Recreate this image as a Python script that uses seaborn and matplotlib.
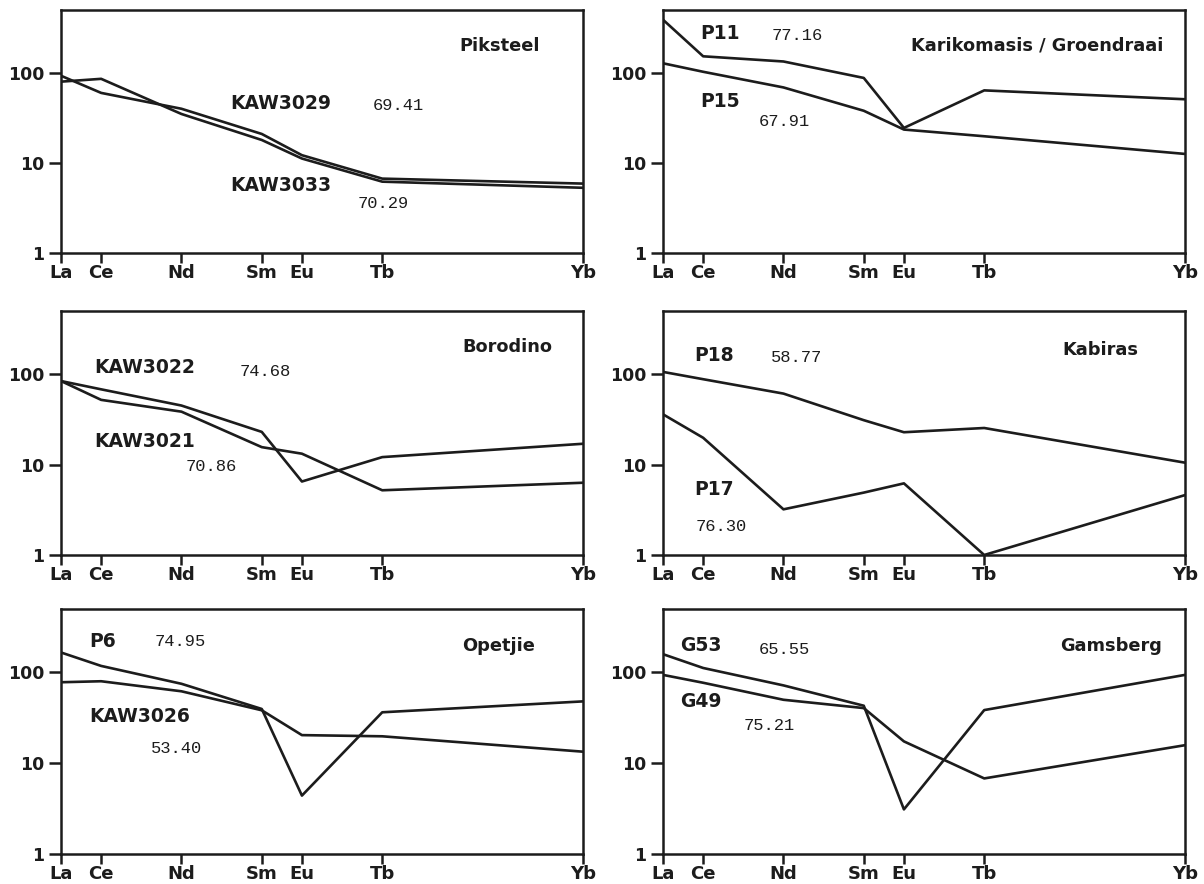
import numpy as np
import pandas as pd
import matplotlib
matplotlib.use("Agg")
import matplotlib.pyplot as plt
import seaborn as sns

# ---------------- data ----------------
elements = ["La", "Ce", "Nd", "Sm", "Eu", "Tb", "Yb"]
atomic_numbers = [57, 58, 60, 62, 63, 65, 70]

# Piksteel
kaw3029 = [93, 60, 40, 21, 12.2, 6.7, 5.9]
kaw3033 = [80, 86, 35, 18, 11.2, 6.2, 5.3]
# Karikomasis / Groendraai
p11 = [390, 153, 134, 88, 24.5, 64, 51]
p15 = [128, 103, 69, 38, 23.5, 19.8, 12.6]
# Borodino
kaw3022 = [84, 68, 45, 23, 6.5, 12.1, 17]
kaw3021 = [84, 52, 38.5, 15.6, 13.2, 5.2, 6.3]
# Kabiras
p18 = [106, 88, 61, 31, 22.8, 25.4, 10.5]
p17 = [36, 19.8, 3.2, 4.9, 6.2, 1.0, 4.6]
# Opetjie
p6 = [166, 118, 75, 39.6, 4.4, 36.4, 48]
kaw3026 = [78, 80, 62, 38.3, 20.4, 19.8, 13.4]
# Gamsberg
g53 = [159, 112, 72, 43, 3.1, 38.5, 94]
g49 = [94, 77, 50, 40.5, 17.4, 6.8, 15.8]

places = ["Piksteel", "Karikomasis / Groendraai", "Borodino", "Kabiras", "Opetjie", "Gamsberg"]
sample_names = [["KAW3029", "KAW3033"], ["P11", "P15"], ["KAW3022", "KAW3021"],
                ["P18", "P17"], ["P6", "KAW3026"], ["G53", "G49"]]
sample_values = [[kaw3029, kaw3033], [p11, p15], [kaw3022, kaw3021],
                 [p18, p17], [p6, kaw3026], [g53, g49]]
sample_numbers = [["69.41", "70.29"], ["77.16", "67.91"], ["74.68", "70.86"],
                  ["58.77", "76.30"], ["74.95", "53.40"], ["65.55", "75.21"]]

y_ticks = [1, 10, 100]
y_tick_labels = ["1", "10", "100"]

# ---------------- layout ----------------
place_pos = [(0.764, 0.85), (0.475, 0.855), (0.768, 0.851),
             (0.765, 0.841), (0.768, 0.849), (0.761, 0.848)]
name_pos = [[(0.324, 0.616), (0.324, 0.277)],
            [(0.071, 0.905), (0.071, 0.624)],
            [(0.063, 0.769), (0.063, 0.467)],
            [(0.059, 0.816), (0.059, 0.269)],
            [(0.054, 0.869), (0.054, 0.563)],
            [(0.032, 0.852), (0.032, 0.621)]]
num_pos = [[(0.598, 0.607), (0.569, 0.202)],
           [(0.208, 0.897), (0.183, 0.541)],
           [(0.343, 0.752), (0.239, 0.364)],
           [(0.206, 0.808), (0.063, 0.118)],
           [(0.180, 0.869), (0.172, 0.429)],
           [(0.183, 0.835), (0.155, 0.523)]]

W, H = 1204, 884
col_left = [61, 663]
col_width = 522
rows = [(10, 253), (311, 555), (609, 854)]

sns.set_theme(style="ticks")
plt.rcParams["font.family"] = ["DejaVu Sans"]
plt.rcParams["axes.linewidth"] = 1.8

ink = "#1c1c1c"
fig = plt.figure(figsize=(W / 100, H / 100), dpi=100)
fig.patch.set_facecolor("white")

for i in range(6):
    r, c = divmod(i, 2)
    top, bot = rows[r]
    ax = fig.add_axes([col_left[c] / W, 1 - bot / H, col_width / W, (bot - top) / H])
    frames = []
    for name, vals in zip(sample_names[i], sample_values[i]):
        frames.append(pd.DataFrame({"Z": atomic_numbers, "value": vals, "sample": name}))
    df = pd.concat(frames, ignore_index=True)
    sns.lineplot(data=df, x="Z", y="value", units="sample", estimator=None,
                 color=ink, linewidth=1.9, ax=ax, legend=False)
    ax.set_yscale("log")
    ax.set_ylim(1, 500)
    ax.set_xlim(atomic_numbers[0], atomic_numbers[-1])
    ax.set_yticks(y_ticks)
    ax.set_yticklabels(y_tick_labels)
    ax.minorticks_off()
    ax.set_xticks(atomic_numbers)
    ax.set_xticklabels(elements)
    ax.tick_params(axis="x", direction="out", length=7, width=1.8, pad=1,
                   labelsize=13, colors=ink)
    ax.tick_params(axis="y", direction="out", length=9, width=1.8, pad=3,
                   labelsize=12.5, colors=ink)
    for lab in ax.get_xticklabels() + ax.get_yticklabels():
        lab.set_fontweight("bold")
    ax.set_xlabel("")
    ax.set_ylabel("")
    for sp in ax.spines.values():
        sp.set_visible(True)
        sp.set_color(ink)
        sp.set_linewidth(1.8)
    ax.set_facecolor("white")

    ax.text(*place_pos[i], places[i], transform=ax.transAxes, fontsize=12.8,
            fontweight="bold", color=ink, va="center", ha="left")
    for (nx, ny), nm in zip(name_pos[i], sample_names[i]):
        ax.text(nx, ny, nm, transform=ax.transAxes, fontsize=13.5,
                fontweight="bold", color=ink, va="center", ha="left")
    for (mx, my), num in zip(num_pos[i], sample_numbers[i]):
        ax.text(mx, my, num, transform=ax.transAxes, fontsize=12.3,
                family=["Liberation Mono", "DejaVu Sans Mono"], color=ink,
                va="center", ha="left")

fig.savefig("out.png", dpi=100, facecolor="white")
